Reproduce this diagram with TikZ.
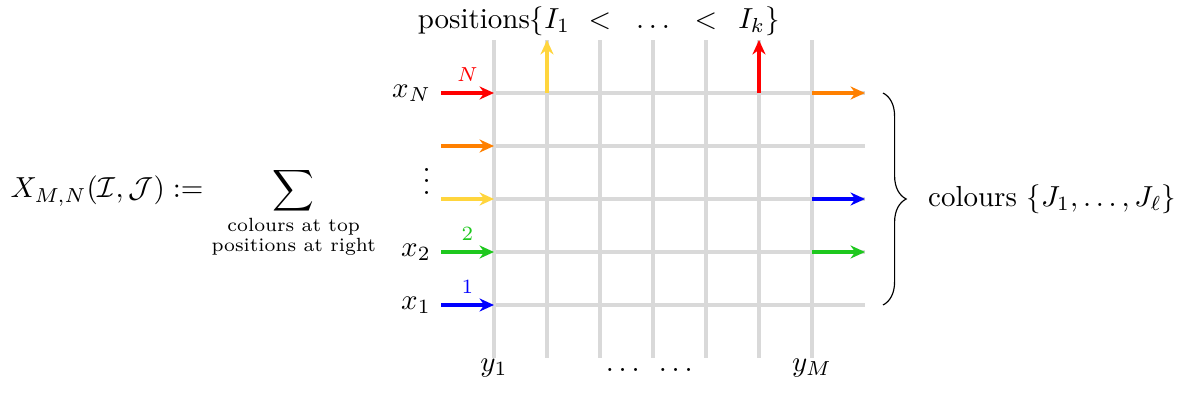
\documentclass[tikz,border=0pt]{standalone}
\usepackage{amsmath,amssymb}
\usetikzlibrary{arrows.meta,positioning,decorations.pathreplacing}
\definecolor{pathorange}{HTML}{FF8000}
\definecolor{pathyellow}{HTML}{FFD53D}
\definecolor{pathgreen}{HTML}{1EC81E}

\begin{document}
\begin{tikzpicture}[
  x=0.643cm, y=0.643cm,
  wire/.style={line width=1.3pt, gray!30},
  colpath/.style={-{Stealth[length=5pt, width=4.5pt]}, line width=1.2pt},
  weight/.style={midway, above, font=\scriptsize},
  toplabel/.style={anchor=base, yshift=4pt},
  botlabel/.style={anchor=base, yshift=-4.5pt},
]
\useasboundingbox (-9.321,-1.660) rectangle (12.906,5.755);

% grid points
\foreach \j in {0,...,4} {
  \coordinate (in\j) at (-1,\j);
  \coordinate (w\j) at (0,\j);
  \coordinate (e\j) at (6,\j);
  \coordinate (out\j) at (7,\j);
}
\foreach \i in {0,...,6} {
  \coordinate (bot\i) at (\i,-1);
  \coordinate (top\i) at (\i,5);
}
\coordinate (braceT) at (7.34,4);
\coordinate (braceB) at (7.34,0);

% lattice
\foreach \j in {0,...,4} \draw[wire] (w\j) -- (out\j);
\foreach \i in {0,...,6} \draw[wire] (bot\i) -- (top\i);

% paths coming in
\draw[colpath, red] (in4) -- node[weight] (wN) {$N$} (w4);
\draw[colpath, pathorange] (in3) -- (w3);
\draw[colpath, pathyellow] (in2) -- (w2);
\draw[colpath, pathgreen] (in1) -- node[weight] (w2lbl) {$2$} (w1);
\draw[colpath, blue] (in0) -- node[weight] (w1lbl) {$1$} (w0);

% paths going out
\draw[colpath, pathorange] (e4) -- (out4);
\draw[colpath, blue] (e2) -- (out2);
\draw[colpath, pathgreen] (e1) -- (out1);
\draw[colpath, pathyellow] (top1 |- w4) -- (top1);
\draw[colpath, red] (top5 |- w4) -- (top5);

% row labels
\node[left] (xN) at (in4) {$x_N$};
\node[left] (vd) at (-1,2.5) {$\vdots$};
\node[left] (x2) at (in1) {$x_2$};
\node[left] (x1) at (in0) {$x_1$};

% column labels
\node[botlabel] (y1) at (bot0) {$y_1$};
\node[botlabel] (dl) at (2.43,-1) {$\ldots$};
\node[botlabel] (dr) at (3.43,-1) {$\ldots$};
\node[botlabel] (yM) at (bot6) {$y_M$};

% top positions
\node[toplabel] (pI1) at (top0) {positions$\{I_1$};
\node[toplabel] (lt1) at (top2) {$<$};
\node[toplabel] (tdots) at (top3) {$\ldots$};
\node[toplabel] (lt2) at (top4) {$<$};
\node[toplabel] (Ik) at (top5) {$I_k\}$};

% colours at right
\draw[decorate, decoration={brace, amplitude=8pt}] (braceT) -- (braceB);
\node[anchor=west] (cols) at (8.0,2) {colours $\{J_1,\ldots,J_\ell\}$};

% partition function
\node[anchor=base west, inner sep=0pt] (def) at (-9.13,2.02)
  {$\displaystyle X_{M,N}(\mathcal{I},\mathcal{J}) :=
   \sum_{\substack{\text{\fontsize{6.6pt}{7.5pt}\selectfont colours at top}\\
   \text{\fontsize{6.6pt}{7.5pt}\selectfont positions at right}}}$};

\end{tikzpicture}
\end{document}
